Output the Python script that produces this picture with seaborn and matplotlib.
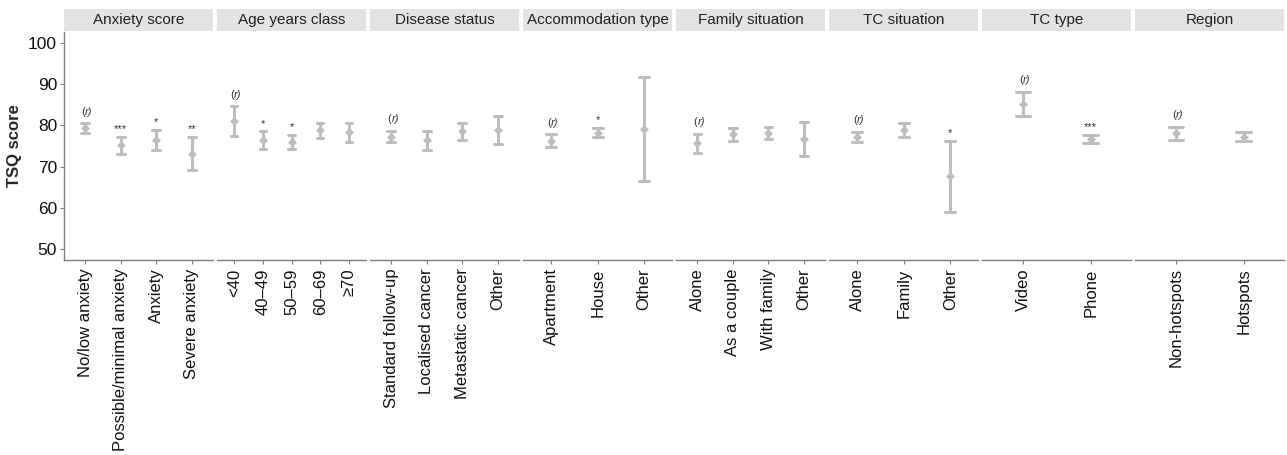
import numpy as np
import pandas as pd
import matplotlib
matplotlib.use("Agg")
import matplotlib.pyplot as plt
from matplotlib.patches import Rectangle
import seaborn as sns

panels = ["Anxiety score", "Age years class", "Disease status", "Accommodation type",
          "Family situation", "TC situation", "TC type", "Region"]

categories = [
    ["No/low anxiety", "Possible/minimal anxiety", "Anxiety", "Severe anxiety"],
    ["<40", "40\u201349", "50\u201359", "60\u201369", "\u226570"],
    ["Standard follow-up", "Localised cancer", "Metastatic cancer", "Other"],
    ["Apartment", "House", "Other"],
    ["Alone", "As a couple", "With family", "Other"],
    ["Alone", "Family", "Other"],
    ["Video", "Phone"],
    ["Non-hotspots", "Hotspots"],
]

means = [
    [79.3, 75.2, 76.5, 73.2],
    [81.2, 76.5, 76.1, 78.8, 78.4],
    [77.3, 76.5, 78.7, 78.9],
    [76.3, 78.3, 79.2],
    [75.7, 77.9, 78.2, 76.8],
    [77.2, 78.9, 67.7],
    [85.2, 76.8],
    [78.1, 77.3],
]

lower = [
    [78.1, 73.2, 74.1, 69.1],
    [77.5, 74.4, 74.4, 76.9, 76.1],
    [75.9, 74.1, 76.5, 75.5],
    [74.7, 77.1, 66.5],
    [73.3, 76.3, 76.7, 72.7],
    [75.9, 77.1, 59.0],
    [82.3, 75.7],
    [76.4, 76.3],
]

upper = [
    [80.5, 77.2, 78.9, 77.3],
    [84.7, 78.6, 77.8, 80.5, 80.5],
    [78.7, 78.7, 80.7, 82.4],
    [77.9, 79.5, 91.8],
    [78.0, 79.4, 79.7, 80.8],
    [78.4, 80.7, 76.3],
    [88.2, 77.7],
    [79.7, 78.5],
]

# reference level marked (r), stars = significance vs reference
signif = [
    ["(r)", "***", "*", "**"],
    ["(r)", "*", "*", "", ""],
    ["(r)", "", "", ""],
    ["(r)", "*", ""],
    ["(r)", "", "", ""],
    ["(r)", "", "*"],
    ["(r)", "***"],
    ["(r)", ""],
]

sns.set_style("white")
plt.rcParams["font.family"] = ["Liberation Sans", "DejaVu Sans"]

bar_color = "#bdbdbd"
axis_color = "#7f7f7f"

fig, axes = plt.subplots(1, len(panels), figsize=(12.87, 4.55), dpi=100, sharey=True)
fig.subplots_adjust(left=0.0497, right=0.998, bottom=0.4286, top=0.93, wspace=0.027)

for i, ax in enumerate(axes):
    # each category gets lower / mean / upper; median gives the mean, min-max the CI
    rows = []
    for c, lo, m, hi in zip(categories[i], lower[i], means[i], upper[i]):
        for v in (lo, m, hi):
            rows.append({"category": c, "TSQ": v})
    df = pd.DataFrame(rows)

    sns.pointplot(data=df, x="category", y="TSQ", order=categories[i], ax=ax,
                  estimator="median", errorbar=lambda v: (v.min(), v.max()),
                  color=bar_color, linestyle="none", marker="D", markersize=2.5,
                  capsize=0.22, err_kws={"linewidth": 2.2})

    n = len(categories[i])
    ax.set_xlim(-0.6, n - 0.4)
    ax.set_ylim(47.4, 102.7)

    for j, lab in enumerate(signif[i]):
        if not lab:
            continue
        if lab == "(r)":
            ax.text(j, upper[i][j] + 1.6, "(", fontsize=8, ha="right", va="bottom",
                    color="#333333")
            ax.text(j, upper[i][j] + 1.6, "r)", fontsize=8, ha="left", va="bottom",
                    color="#333333", style="italic")
        else:
            ax.text(j, upper[i][j] + 0.6, lab, fontsize=8, ha="center", va="bottom",
                    color="#333333")

    ax.set_xlabel("")
    ax.set_ylabel("")
    ax.tick_params(axis="x", rotation=90, labelsize=12, length=3, width=0.8,
                   color=axis_color, pad=3, bottom=True, labelcolor="#111111")
    ax.tick_params(axis="y", labelsize=12.5, length=3, width=0.8, color=axis_color,
                   pad=2, labelcolor="#111111")
    for s in ["top", "right", "left"]:
        ax.spines[s].set_visible(False)
    ax.spines["bottom"].set_color(axis_color)
    ax.spines["bottom"].set_linewidth(1.0)
    if i == 0:
        ax.spines["left"].set_visible(True)
        ax.spines["left"].set_color(axis_color)
        ax.spines["left"].set_linewidth(1.0)
        ax.tick_params(axis="y", left=True)
    else:
        ax.tick_params(axis="y", left=False)

    # facet strip
    ax.add_patch(Rectangle((0, 1.004), 1, 0.0965, transform=ax.transAxes,
                           facecolor="#e3e3e3", edgecolor="none", clip_on=False))
    ax.text(0.5, 1.004 + 0.0965 / 2, panels[i], transform=ax.transAxes,
            ha="center", va="center", fontsize=11, color="#222222")

axes[0].set_yticks([50, 60, 70, 80, 90, 100])
axes[0].set_ylabel("TSQ score", fontsize=12, fontweight="bold", labelpad=4)

fig.savefig("out.png", dpi=100)
